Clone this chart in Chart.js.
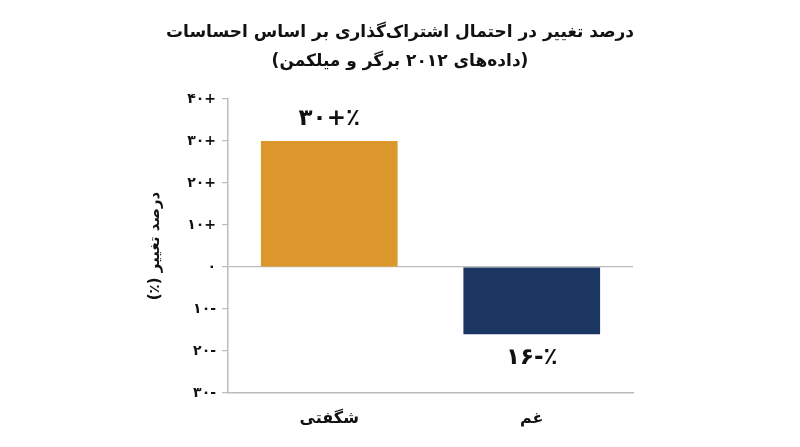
<!DOCTYPE html>
<html><head><meta charset="utf-8">
<script src="https://cdn.jsdelivr.net/npm/chart.js@4"></script>
<style>html,body{margin:0;padding:0;background:#fff}#w{width:800px;height:447px}</style>
</head><body><div id="w"><canvas id="c"></canvas></div>
<script>
const titleText = "درصد تغییر در احتمال اشتراک‌گذاری بر اساس احساسات";
const subtitleText = "(داده‌های ۲۰۱۲ برگر و میلکمن)";
const yTitle = "درصد تغییر (٪)";
const categories = ["شگفتی", "غم"];
const values = [30, -16];
const valueLabels = ["۳۰+٪", "۱۶-٪"];
const barColors = ["#DB972C", "#1B3761"];
const tickLabels = {40:"۴۰+",30:"۳۰+",20:"۲۰+",10:"۱۰+",0:"۰","-10":"۱۰-","-20":"۲۰-","-30":"۳۰-"};
const FONT = "'DejaVu Sans', sans-serif";

const textPlugin = {
  id: 'txt',
  afterDraw(chart) {
    const ctx = chart.ctx;
    ctx.save();
    ctx.direction = 'rtl';
    ctx.fillStyle = '#111';
    ctx.textAlign = 'center';
    ctx.textBaseline = 'middle';
    ctx.font = "bold 17px " + FONT;
    ctx.fillText(titleText, 400, 33);
    ctx.fillText(subtitleText, 400, 62);
    ctx.save();
    ctx.translate(155, (chart.chartArea.top + chart.chartArea.bottom) / 2);
    ctx.rotate(-Math.PI / 2);
    ctx.font = "bold 15px " + FONT;
    ctx.fillText(yTitle, 0, 0);
    ctx.restore();
    ctx.direction = 'ltr';
    ctx.font = "bold 23px " + FONT;
    const meta = chart.getDatasetMeta(0);
    meta.data.forEach((bar, i) => {
      const y = values[i] >= 0 ? bar.y - 22 : bar.y + 24;
      ctx.fillText(valueLabels[i], bar.x, y);
    });
    ctx.restore();
  }
};

new Chart(document.getElementById('c'), {
  type: 'bar',
  data: { labels: categories, datasets: [{ data: values, backgroundColor: barColors, barPercentage: 0.675, categoryPercentage: 1 }] },
  options: {
    responsive: true, maintainAspectRatio: false, animation: false,
    layout: { padding: { left: 130, right: 167, top: 99, bottom: 10 } },
    plugins: { legend: { display: false }, tooltip: { enabled: false } },
    scales: {
      x: {
        grid: { display: false },
        border: { color: '#bbb', width: 1.5 },
        ticks: { color: '#111', font: { family: FONT, size: 16, weight: 'bold' }, padding: 8 },
        afterFit(s) { s.height = 44; }
      },
      y: {
        min: -30, max: 40,
        ticks: { stepSize: 10, color: '#111', font: { family: FONT, size: 14, weight: 'bold' }, padding: 6,
          callback: v => tickLabels[v] },
        grid: { color: ctx => ctx.tick && ctx.tick.value === 0 ? '#bbb' : 'rgba(0,0,0,0)',
                tickColor: '#bbb', tickLength: 6, lineWidth: 1.2 },
        border: { color: '#bbb', width: 1.5 },
        afterFit(s) { s.width = 98; }
      }
    }
  },
  plugins: [textPlugin]
});
</script></body></html>
